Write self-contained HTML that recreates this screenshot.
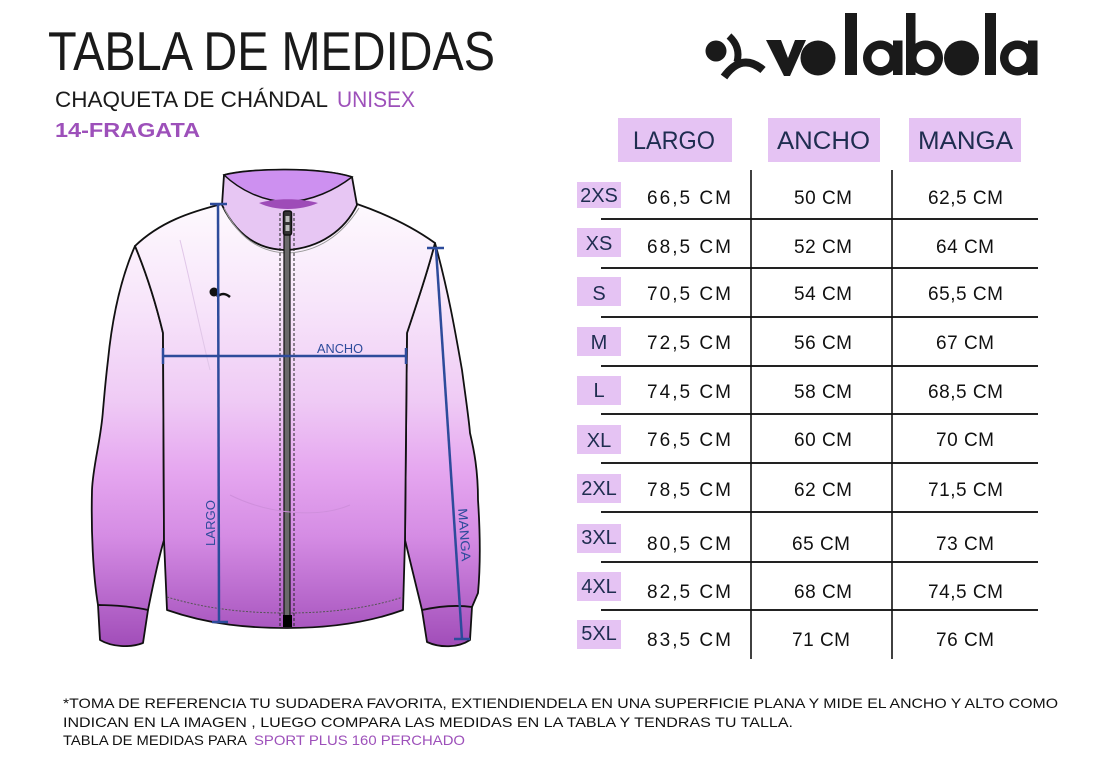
<!DOCTYPE html>
<html><head><meta charset="utf-8"><style>
html,body{margin:0;padding:0;background:#fff;}
svg{display:block;}
text{font-family:"Liberation Sans",sans-serif;}
</style></head><body>
<svg width="1117" height="763" viewBox="0 0 1117 763" xmlns="http://www.w3.org/2000/svg">
<defs>
<linearGradient id="g" gradientUnits="userSpaceOnUse" x1="0" y1="195" x2="0" y2="650">
<stop offset="0" stop-color="#fefbfe"/>
<stop offset="0.25" stop-color="#f7e4fa"/>
<stop offset="0.45" stop-color="#efcbf5"/>
<stop offset="0.6" stop-color="#e6a8f0"/>
<stop offset="0.75" stop-color="#d58ce4"/>
<stop offset="0.88" stop-color="#b96acd"/>
<stop offset="1" stop-color="#9f4bb7"/>
</linearGradient>
</defs>
<rect width="1117" height="763" fill="#fff"/>

<!-- Title -->
<text x="48" y="70" font-size="55" fill="#1a1a1a" textLength="447" lengthAdjust="spacingAndGlyphs">TABLA DE MEDIDAS</text>
<text x="55" y="107" font-size="22" fill="#1a1a1a" textLength="273" lengthAdjust="spacingAndGlyphs">CHAQUETA DE CHÁNDAL</text>
<text x="337" y="107" font-size="22" fill="#9d50ba" textLength="78" lengthAdjust="spacingAndGlyphs">UNISEX</text>
<text x="55" y="137" font-size="20" font-weight="bold" fill="#9d50ba" textLength="145" lengthAdjust="spacingAndGlyphs">14-FRAGATA</text>

<!-- Logo -->
<g fill="#1a1a1a">
<circle cx="716" cy="51" r="10.5"/>
<path d="M729 36 Q741 47 737 62" fill="none" stroke="#1a1a1a" stroke-width="7"/>
<path d="M724 77 Q742 52 763 70" fill="none" stroke="#1a1a1a" stroke-width="8"/>
<polygon points="766,40 781,40 788,58 795,40 806,40 790,76 784,76"/>
<circle cx="818" cy="58" r="17.5"/>
<rect x="845" y="13" width="12" height="62"/>
<path fill-rule="evenodd" d="M880.5 40.5 a17.5 17.5 0 1 0 0.01 0 Z M880.5 49 a9 9 0 1 1 -0.01 0 Z"/>
<rect x="893" y="40.5" width="9.5" height="34.5"/>
<rect x="906" y="13" width="9.5" height="62"/>
<path fill-rule="evenodd" d="M925.5 40.5 a17.5 17.5 0 1 0 0.01 0 Z M925.5 49 a9 9 0 1 1 -0.01 0 Z"/>
<circle cx="961.5" cy="58" r="17.5"/>
<rect x="985" y="13" width="11" height="62"/>
<path fill-rule="evenodd" d="M1017.5 40.5 a17.5 17.5 0 1 0 0.01 0 Z M1017.5 49 a9 9 0 1 1 -0.01 0 Z"/>
<rect x="1028" y="40.5" width="9.5" height="34.5"/>
</g>

<!-- Jacket -->
<g stroke="#111" stroke-width="1.8" stroke-linejoin="round" fill="url(#g)">
<path d="M135 246 C120 280 112 320 108 360 C105 385 104 400 103 410 C101 440 93 465 92 490 C91 530 93 575 98 605 L148 610 C153 585 158 560 164 540 L163 333 C155 300 145 270 135 246 Z"/>
<path d="M435 243 C448 290 455 330 462 370 C466 400 469 420 470 433 C474 450 478 470 478 500 C480 530 481 560 478 593 L472 607 L422 610 C416 585 410 560 405 540 L407 333 C418 300 428 270 435 243 Z"/>
<path d="M222 204 C190 212 160 222 135 246 C145 270 155 300 163 333 L164 540 L167 610 C210 625 250 628 287 628 C330 628 370 622 403 610 L405 540 L407 333 C418 300 428 270 435 243 C410 225 380 212 357 204 Z"/>
<path d="M98 605 C115 605 135 607 148 610 L143 643 C130 648 112 647 100 640 Z"/>
<path d="M422 610 C440 606 458 605 472 607 L470 640 C458 648 440 648 427 642 Z"/>
</g>
<path d="M167 597 C210 610 250 613 287 613 C330 613 370 608 403 597" fill="none" stroke="#555" stroke-width="1" stroke-dasharray="2 1.5"/>
<!-- collar -->
<path d="M224 175 C250 168 320 167 352 177 L357 205 C345 230 320 248 287 250 C255 250 235 232 222 205 Z" fill="#e7c6f3" stroke="#111" stroke-width="1.8"/>
<path d="M224 175 C240 190 262 201 287 202 C312 201 335 190 352 177 C320 167 250 168 224 175 Z" fill="#cd90f0" stroke="#111" stroke-width="1.5"/>
<path d="M259 203 C275 198 300 198 318 203 C300 211 275 211 259 203 Z" fill="#9e4cb8"/>
<path d="M224 208 C237 235 257 252 287 253 C318 252 342 235 359 208" fill="none" stroke="#999" stroke-width="1"/>
<!-- zipper -->
<line x1="280" y1="213" x2="280" y2="627" stroke="#222" stroke-width="1" stroke-dasharray="3 2"/>
<line x1="294" y1="213" x2="294" y2="627" stroke="#222" stroke-width="1" stroke-dasharray="3 2"/>
<rect x="284" y="213" width="6" height="404" fill="#6a6a6a" stroke="#111" stroke-width="1.2"/>
<rect x="283" y="615" width="9" height="12" fill="#000"/>
<rect x="283.5" y="211" width="8" height="24" rx="2" fill="#333" stroke="#111" stroke-width="1.5"/>
<rect x="285.5" y="216" width="4" height="6" fill="#bbb"/>
<rect x="285.5" y="225" width="4" height="6" fill="#bbb"/>
<!-- chest logo -->
<circle cx="214" cy="292" r="4.5" fill="#111"/>
<path d="M217 297 Q223 291 230 297" fill="none" stroke="#111" stroke-width="2.5"/>
<path d="M180 240 C190 280 200 330 210 370" fill="none" stroke="#e0c6e8" stroke-width="1"/>
<path d="M230 495 C270 515 320 518 350 505" fill="none" stroke="#cf8fdc" stroke-width="1"/>

<!-- measurement lines -->
<g stroke="#2d4b9b" stroke-width="2.5" fill="none">
<line x1="218" y1="204" x2="219" y2="622"/>
<line x1="210" y1="204" x2="227" y2="204"/>
<line x1="212" y1="622" x2="228" y2="622"/>
<line x1="163" y1="356" x2="406" y2="356"/>
<line x1="163" y1="348" x2="163" y2="364"/>
<line x1="406" y1="348" x2="406" y2="364"/>
<line x1="436" y1="249" x2="462" y2="639"/>
<line x1="427" y1="248" x2="444" y2="248"/>
<line x1="454" y1="639" x2="470" y2="639"/>
</g>
<text x="0" y="0" font-size="13" fill="#2d4b9b" text-anchor="middle" transform="translate(215,523) rotate(-90)" textLength="46" lengthAdjust="spacingAndGlyphs">LARGO</text>
<text x="340" y="353" font-size="13" fill="#2d4b9b" text-anchor="middle" textLength="46" lengthAdjust="spacingAndGlyphs">ANCHO</text>
<text x="0" y="0" font-size="13" fill="#2d4b9b" text-anchor="middle" transform="translate(460,535) rotate(86)" textLength="53" lengthAdjust="spacingAndGlyphs">MANGA</text>

<!-- Table header -->
<g fill="#e5c3f3">
<rect x="618" y="118" width="114" height="44"/>
<rect x="768" y="118" width="112" height="44"/>
<rect x="909" y="118" width="112" height="44"/>
</g>
<g font-size="25" fill="#1f2d50" text-anchor="middle">
<text x="674" y="149" textLength="82" lengthAdjust="spacingAndGlyphs">LARGO</text>
<text x="823.5" y="149" textLength="93" lengthAdjust="spacingAndGlyphs">ANCHO</text>
<text x="965.5" y="149" textLength="95" lengthAdjust="spacingAndGlyphs">MANGA</text>
</g>

<!-- Table lines -->
<g stroke="#222" stroke-width="2">
<line x1="601" y1="219" x2="1038" y2="219"/>
<line x1="601" y1="268" x2="1038" y2="268"/>
<line x1="601" y1="317" x2="1038" y2="317"/>
<line x1="601" y1="366" x2="1038" y2="366"/>
<line x1="601" y1="414" x2="1038" y2="414"/>
<line x1="601" y1="463" x2="1038" y2="463"/>
<line x1="601" y1="512" x2="1038" y2="512"/>
<line x1="601" y1="562" x2="1038" y2="562"/>
<line x1="601" y1="610" x2="1038" y2="610"/>
</g>
<g stroke="#111" stroke-width="1.6">
<line x1="751" y1="170" x2="751" y2="659"/>
<line x1="892" y1="170" x2="892" y2="659"/>
</g>

<!-- size boxes -->
<g fill="#e5c3f3">
<rect x="577" y="182" width="44" height="26"/>
<rect x="577" y="228" width="44" height="29"/>
<rect x="577" y="277" width="44" height="29"/>
<rect x="577" y="327" width="44" height="29"/>
<rect x="577" y="376" width="44" height="29"/>
<rect x="577" y="425" width="44" height="29"/>
<rect x="577" y="474" width="44" height="29"/>
<rect x="577" y="524" width="44" height="29"/>
<rect x="577" y="572" width="44" height="29"/>
<rect x="577" y="620" width="44" height="29"/>
</g>
<g font-size="20" fill="#1f2d50" text-anchor="middle">
<text x="599" y="202">2XS</text>
<text x="599" y="250">XS</text>
<text x="599" y="300">S</text>
<text x="599" y="349">M</text>
<text x="599" y="397">L</text>
<text x="599" y="447">XL</text>
<text x="599" y="495">2XL</text>
<text x="599" y="544">3XL</text>
<text x="599" y="593">4XL</text>
<text x="599" y="640">5XL</text>
</g>

<!-- values -->
<g font-size="19" fill="#111" text-anchor="middle" lengthAdjust="spacingAndGlyphs">
<text x="689" y="204" textLength="84">66,5 CM</text>
<text x="689" y="253" textLength="84">68,5 CM</text>
<text x="689" y="300" textLength="84">70,5 CM</text>
<text x="689" y="349" textLength="84">72,5 CM</text>
<text x="689" y="398" textLength="84">74,5 CM</text>
<text x="689" y="446" textLength="84">76,5 CM</text>
<text x="689" y="496" textLength="84">78,5 CM</text>
<text x="689" y="550" textLength="84">80,5 CM</text>
<text x="689" y="598" textLength="84">82,5 CM</text>
<text x="689" y="646" textLength="84">83,5 CM</text>

<text x="823" y="204" textLength="58">50 CM</text>
<text x="823" y="253" textLength="58">52 CM</text>
<text x="823" y="300" textLength="58">54 CM</text>
<text x="823" y="349" textLength="58">56 CM</text>
<text x="823" y="398" textLength="58">58 CM</text>
<text x="823" y="446" textLength="58">60 CM</text>
<text x="823" y="496" textLength="58">62 CM</text>
<text x="821" y="550" textLength="58">65 CM</text>
<text x="823" y="598" textLength="58">68 CM</text>
<text x="821" y="646" textLength="58">71 CM</text>

<text x="965.5" y="204" textLength="75">62,5 CM</text>
<text x="965" y="253" textLength="58">64 CM</text>
<text x="965.5" y="300" textLength="75">65,5 CM</text>
<text x="965" y="349" textLength="58">67 CM</text>
<text x="965.5" y="398" textLength="75">68,5 CM</text>
<text x="965" y="446" textLength="58">70 CM</text>
<text x="965.5" y="496" textLength="75">71,5 CM</text>
<text x="965" y="550" textLength="58">73 CM</text>
<text x="965.5" y="598" textLength="75">74,5 CM</text>
<text x="965" y="646" textLength="58">76 CM</text>
</g>

<!-- footer -->
<g font-size="14" fill="#111">
<text x="63" y="708" textLength="995" lengthAdjust="spacingAndGlyphs">*TOMA DE REFERENCIA TU SUDADERA FAVORITA, EXTIENDIENDELA EN UNA SUPERFICIE PLANA Y MIDE EL ANCHO Y ALTO COMO</text>
<text x="63" y="727" textLength="730" lengthAdjust="spacingAndGlyphs">INDICAN EN LA IMAGEN , LUEGO COMPARA LAS MEDIDAS  EN LA TABLA Y TENDRAS TU TALLA.</text>
<text x="63" y="745" textLength="184" lengthAdjust="spacingAndGlyphs">TABLA DE MEDIDAS PARA</text>
<text x="254" y="745" fill="#9d50ba" textLength="211" lengthAdjust="spacingAndGlyphs">SPORT PLUS 160 PERCHADO</text>
</g>
</svg>
</body></html>
